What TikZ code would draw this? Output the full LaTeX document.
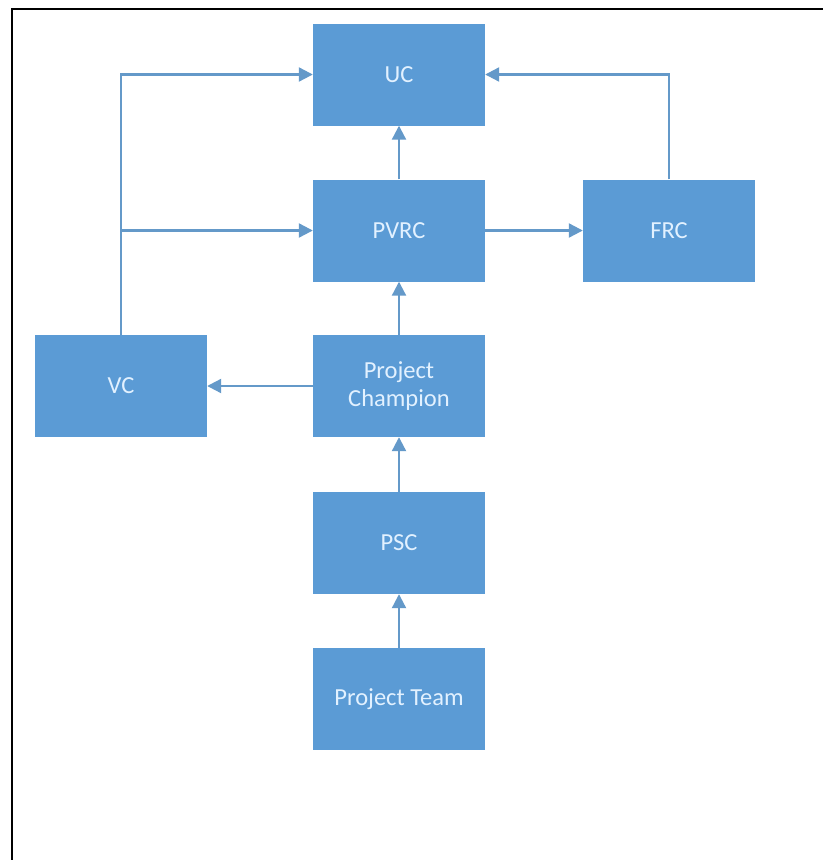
\documentclass[tikz,border=0pt]{standalone}
\usepackage{fontspec}
\setmainfont{Carlito}
\usetikzlibrary{arrows.meta}
\definecolor{boxblue}{HTML}{5B9BD5}
\definecolor{lineblue}{HTML}{6499C9}
\definecolor{txt}{HTML}{E2F1FF}
\tikzset{
  blk/.style={rectangle, fill=boxblue, draw=none, minimum width=172pt, minimum height=102pt, inner sep=0pt, text=txt, font=\fontsize{24.5}{27.5}\selectfont, align=center},
  arr/.style={draw=lineblue, line width=2.2pt, -{Triangle[length=14pt,width=14pt]}},
  frame/.style={draw=black, line width=2pt}
}
\begin{document}
\begin{tikzpicture}[x=1pt,y=-1pt]
\useasboundingbox (0,0) rectangle (823,860);
\fill[white] (0,0) rectangle (823,860);
\coordinate (ftl) at (11.5,8.5);
\coordinate (ftr) at (823,8.5);
\coordinate (fbl) at (11.5,860);
\draw[frame] (fbl) -- (ftl) -- (ftr);
\node[blk] (uc) at (399,74.5) {UC};
\node[blk] (pvrc) at (399,230.5) {PVRC};
\node[blk] (frc) at (669,230.5) {FRC};
\node[blk] (vc) at (121,386) {VC};
\node[blk] (pc) at (399,386) {Project\\Champion};
\node[blk] (psc) at (399,543) {PSC};
\node[blk] (pt) at (399,699) {Project Team};
\draw[arr] (vc.north) |- (uc.west);
\draw[arr] (vc.north |- pvrc.west) -- (pvrc.west);
\draw[arr] (frc.north) |- (uc.east);
\draw[arr] (pvrc.north) -- (uc.south);
\draw[arr] (pvrc.east) -- (frc.west);
\draw[arr] (pc.north) -- (pvrc.south);
\draw[arr] (pc.west) -- (vc.east);
\draw[arr] (psc.north) -- (pc.south);
\draw[arr] (pt.north) -- (psc.south);
\end{tikzpicture}
\end{document}
